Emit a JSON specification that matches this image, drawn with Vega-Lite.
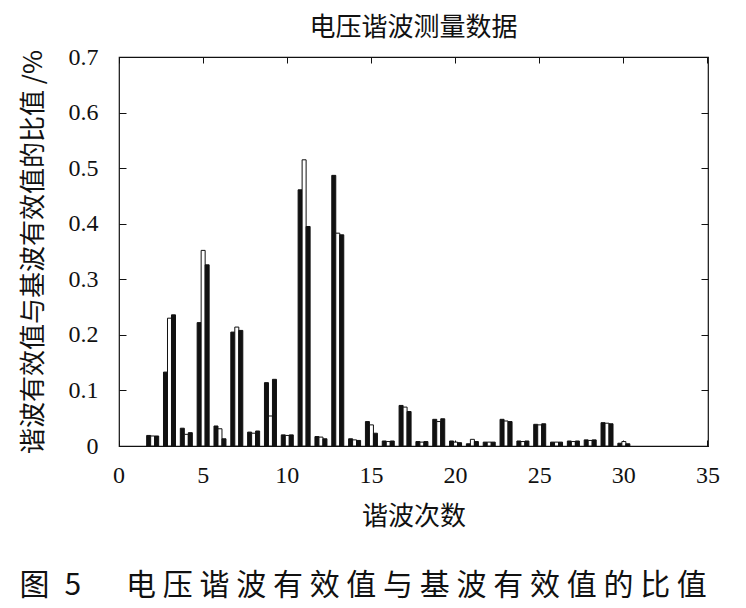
{
  "$schema": "https://vega.github.io/schema/vega-lite/v6.json",
  "background": "white",
  "padding": {"left": 19, "top": 14, "right": 5, "bottom": 5},
  "title": {
    "text": "图\u2004\u20065\u3000\u2004\u2006电 压 谐 波 有 效 值 与 基 波 有 效 值 的 比 值",
    "orient": "bottom",
    "anchor": "start",
    "frame": "bounds",
    "font": "Noto Sans CJK SC",
    "fontSize": 30,
    "fontWeight": "normal",
    "color": "#111",
    "offset": 41
  },
  "vconcat": [
    {
      "title": {
        "text": "电压谐波测量数据",
        "font": "Noto Sans CJK SC",
        "fontSize": 26,
        "fontWeight": "normal",
        "color": "#111",
        "offset": 4
      },
      "width": 589,
      "height": 389,
      "data": {
        "values": [
          {"n": 2, "phase": "A", "v": 0.019}, {"n": 2, "phase": "B", "v": 0.018}, {"n": 2, "phase": "C", "v": 0.018},
          {"n": 3, "phase": "A", "v": 0.133}, {"n": 3, "phase": "B", "v": 0.230}, {"n": 3, "phase": "C", "v": 0.236},
          {"n": 4, "phase": "A", "v": 0.032}, {"n": 4, "phase": "B", "v": 0.021}, {"n": 4, "phase": "C", "v": 0.024},
          {"n": 5, "phase": "A", "v": 0.222}, {"n": 5, "phase": "B", "v": 0.352}, {"n": 5, "phase": "C", "v": 0.326},
          {"n": 6, "phase": "A", "v": 0.036}, {"n": 6, "phase": "B", "v": 0.031}, {"n": 6, "phase": "C", "v": 0.013},
          {"n": 7, "phase": "A", "v": 0.205}, {"n": 7, "phase": "B", "v": 0.214}, {"n": 7, "phase": "C", "v": 0.208},
          {"n": 8, "phase": "A", "v": 0.025}, {"n": 8, "phase": "B", "v": 0.023}, {"n": 8, "phase": "C", "v": 0.027},
          {"n": 9, "phase": "A", "v": 0.114}, {"n": 9, "phase": "B", "v": 0.054}, {"n": 9, "phase": "C", "v": 0.120},
          {"n": 10, "phase": "A", "v": 0.020}, {"n": 10, "phase": "B", "v": 0.019}, {"n": 10, "phase": "C", "v": 0.020},
          {"n": 11, "phase": "A", "v": 0.461}, {"n": 11, "phase": "B", "v": 0.515}, {"n": 11, "phase": "C", "v": 0.395},
          {"n": 12, "phase": "A", "v": 0.017}, {"n": 12, "phase": "B", "v": 0.016}, {"n": 12, "phase": "C", "v": 0.013},
          {"n": 13, "phase": "A", "v": 0.487}, {"n": 13, "phase": "B", "v": 0.383}, {"n": 13, "phase": "C", "v": 0.380},
          {"n": 14, "phase": "A", "v": 0.013}, {"n": 14, "phase": "B", "v": 0.011}, {"n": 14, "phase": "C", "v": 0.010},
          {"n": 15, "phase": "A", "v": 0.044}, {"n": 15, "phase": "B", "v": 0.038}, {"n": 15, "phase": "C", "v": 0.023},
          {"n": 16, "phase": "A", "v": 0.009}, {"n": 16, "phase": "B", "v": 0.008}, {"n": 16, "phase": "C", "v": 0.009},
          {"n": 17, "phase": "A", "v": 0.073}, {"n": 17, "phase": "B", "v": 0.070}, {"n": 17, "phase": "C", "v": 0.062},
          {"n": 18, "phase": "A", "v": 0.008}, {"n": 18, "phase": "B", "v": 0.007}, {"n": 18, "phase": "C", "v": 0.008},
          {"n": 19, "phase": "A", "v": 0.048}, {"n": 19, "phase": "B", "v": 0.044}, {"n": 19, "phase": "C", "v": 0.049},
          {"n": 20, "phase": "A", "v": 0.009}, {"n": 20, "phase": "B", "v": 0.007}, {"n": 20, "phase": "C", "v": 0.006},
          {"n": 21, "phase": "A", "v": 0.004}, {"n": 21, "phase": "B", "v": 0.012}, {"n": 21, "phase": "C", "v": 0.008},
          {"n": 22, "phase": "A", "v": 0.007}, {"n": 22, "phase": "B", "v": 0.007}, {"n": 22, "phase": "C", "v": 0.007},
          {"n": 23, "phase": "A", "v": 0.048}, {"n": 23, "phase": "B", "v": 0.045}, {"n": 23, "phase": "C", "v": 0.044},
          {"n": 24, "phase": "A", "v": 0.009}, {"n": 24, "phase": "B", "v": 0.008}, {"n": 24, "phase": "C", "v": 0.009},
          {"n": 25, "phase": "A", "v": 0.039}, {"n": 25, "phase": "B", "v": 0.038}, {"n": 25, "phase": "C", "v": 0.040},
          {"n": 26, "phase": "A", "v": 0.007}, {"n": 26, "phase": "B", "v": 0.007}, {"n": 26, "phase": "C", "v": 0.007},
          {"n": 27, "phase": "A", "v": 0.009}, {"n": 27, "phase": "B", "v": 0.008}, {"n": 27, "phase": "C", "v": 0.009},
          {"n": 28, "phase": "A", "v": 0.011}, {"n": 28, "phase": "B", "v": 0.010}, {"n": 28, "phase": "C", "v": 0.011},
          {"n": 29, "phase": "A", "v": 0.042}, {"n": 29, "phase": "B", "v": 0.041}, {"n": 29, "phase": "C", "v": 0.040},
          {"n": 30, "phase": "A", "v": 0.005}, {"n": 30, "phase": "B", "v": 0.008}, {"n": 30, "phase": "C", "v": 0.004}
        ]
      },
      "layer": [
        {
          "mark": {"type": "bar", "stroke": "#111", "strokeWidth": 1},
          "encoding": {
            "x": {
              "field": "n",
              "type": "ordinal",
              "scale": {
                "domain": [0, 1, 2, 3, 4, 5, 6, 7, 8, 9, 10, 11, 12, 13, 14, 15, 16, 17, 18, 19, 20, 21, 22, 23, 24, 25, 26, 27, 28, 29, 30, 31, 32, 33, 34, 35],
                "range": [-8.414, 597.414],
                "paddingInner": 0.287,
                "paddingOuter": 0.1435
              },
              "axis": {
                "values": [0, 5, 10, 15, 20, 25, 30, 35],
                "labelAngle": 0,
                "domain": false,
                "tickSize": -6,
                "labelPadding": 23,
                "title": "谐波次数",
                "titlePadding": 16
              }
            },
            "xOffset": {"field": "phase", "type": "nominal", "scale": {"paddingInner": 0}},
            "y": {
              "field": "v",
              "type": "quantitative",
              "stack": null,
              "scale": {"domain": [0, 0.7], "nice": false},
              "axis": {
                "values": [0, 0.1, 0.2, 0.3, 0.4, 0.5, 0.6, 0.7],
                "format": ".1~f",
                "domain": false,
                "tickSize": -7,
                "labelPadding": 28,
                "title": "谐波有效值与基波有效值的比值 /%",
                "titlePadding": 22
              }
            },
            "color": {
              "field": "phase",
              "type": "nominal",
              "scale": {"domain": ["A", "B", "C"], "range": ["#111", "#ffffff", "#111"]},
              "legend": null
            }
          }
        },
        {
          "mark": {"type": "bar", "opacity": 0},
          "encoding": {
            "x": {
              "field": "n",
              "type": "ordinal",
              "axis": {
                "orient": "top",
                "values": [0, 5, 10, 15, 20, 25, 30, 35],
                "labels": false,
                "domain": false,
                "tickSize": -6,
                "title": null
              }
            },
            "xOffset": {"field": "phase", "type": "nominal"},
            "y": {
              "field": "v",
              "type": "quantitative",
              "stack": null,
              "axis": {
                "orient": "right",
                "values": [0, 0.1, 0.2, 0.3, 0.4, 0.5, 0.6, 0.7],
                "labels": false,
                "domain": false,
                "tickSize": -7,
                "title": null
              }
            }
          }
        }
      ],
      "resolve": {"axis": {"x": "independent", "y": "independent"}}
    }
  ],
  "config": {
    "view": {"stroke": "#111", "strokeWidth": 1.2},
    "axis": {
      "grid": false,
      "labelFont": "Times New Roman, Liberation Serif, serif",
      "labelFontSize": 24,
      "labelColor": "#111",
      "tickColor": "#111",
      "domainColor": "#111",
      "titleFont": "Noto Sans CJK SC",
      "titleFontSize": 26,
      "titleFontWeight": "normal",
      "titleColor": "#111"
    }
  }
}
